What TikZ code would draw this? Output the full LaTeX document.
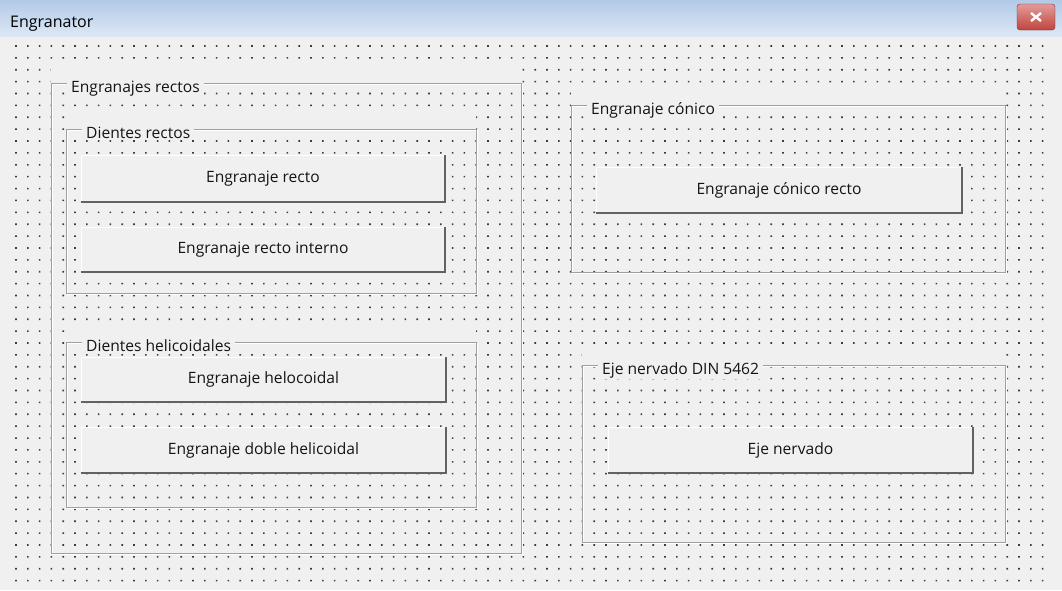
\documentclass[tikz,border=0pt]{standalone}
\usepackage{fontspec}
\usepackage{tikz}
\newfontfamily\uifont{Open Sans}
\definecolor{formbg}{HTML}{F0F0F0}
\definecolor{dotcol}{HTML}{3C3C3C}
\definecolor{framegray}{HTML}{A0A0A0}
\definecolor{btndark}{HTML}{626262}
\definecolor{titletop}{HTML}{B2CAE7}
\definecolor{titlebottom}{HTML}{DDE8F5}
\definecolor{closetop}{HTML}{E29C9C}
\definecolor{closebottom}{HTML}{C0443C}
\definecolor{closeedge}{HTML}{7A3030}

\begin{document}
\begin{tikzpicture}[
	x=1pt, y=-1pt,
	formbutton/.style={
		rectangle, fill=formbg, inner sep=0pt,
		font=\uifont\fontsize{15.6}{18}\selectfont, text=black!92
	},
	framecaption/.style={
		anchor=base west, fill=formbg, inner xsep=4pt, inner ysep=1pt,
		font=\uifont\fontsize{15.6}{18}\selectfont, text=black!92
	}
]
	\useasboundingbox (0,0) rectangle (1062,590);

	% title bar
	\shade[top color=titletop, bottom color=titlebottom]
		(0,0) rectangle (1062,37);
	\node[anchor=base west, inner sep=0pt, font=\uifont\fontsize{16}{18}\selectfont]
		(titulo) at (10,27) {Engranator};
	\node[
		rectangle, rounded corners=3pt, draw=closeedge,
		top color=closetop, bottom color=closebottom,
		minimum width=38pt, minimum height=26pt
	] (cerrar) at (1036,17) {};
	\draw[color=white, line width=2.4pt]
		([shift={(-5,-4)}]cerrar.center) -- ([shift={(5,4)}]cerrar.center)
		([shift={(-5,4)}]cerrar.center) -- ([shift={(5,-4)}]cerrar.center);

	% client area with its grid of dots
	\fill[color=formbg] (0,37) rectangle (1062,590);
	\fill[color=dotcol]
		\foreach \i in {0,1,...,87}{
			\foreach \j in {0,1,...,45}{
				(15.2+11.8*\i, 45.2+11.88*\j) rectangle ++(1.6,1.6)
			}
		};

	% Engranajes rectos
	\fill[color=formbg] (51,65) rectangle (521,83);
	\draw[color=white] (52,84) rectangle (522,554);
	\draw[color=framegray] (51,83) rectangle (521,553);
	\node[framecaption] (caprectos) at (67,92) {Engranajes rectos};

	% Dientes rectos
	\fill[color=formbg] (66,111) rectangle (476,129);
	\draw[color=white] (67,130) rectangle (477,294);
	\draw[color=framegray] (66,129) rectangle (476,293);
	\node[framecaption] (capdientes) at (82,138) {Dientes rectos};

	% Dientes helicoidales
	\fill[color=formbg] (66,324) rectangle (476,342);
	\draw[color=white] (67,343) rectangle (477,508);
	\draw[color=framegray] (66,342) rectangle (476,507);
	\node[framecaption] (caphelic) at (82,351) {Dientes helicoidales};

	% Engranaje conico
	\fill[color=formbg] (571,87) rectangle (1005,105);
	\draw[color=white] (572,106) rectangle (1006,273);
	\draw[color=framegray] (571,105) rectangle (1005,272);
	\node[framecaption] (capconico) at (587,114) {Engranaje cónico};

	% Eje nervado
	\fill[color=formbg] (582,347) rectangle (1005,365);
	\draw[color=white] (583,366) rectangle (1006,543);
	\draw[color=framegray] (582,365) rectangle (1005,542);
	\node[framecaption] (capeje) at (598,374) {Eje nervado DIN 5462};

	% buttons
	\node[formbutton, minimum width=364pt, minimum height=47pt]
		(recto) at (263,178.5) {Engranaje recto};
	\node[formbutton, minimum width=364pt, minimum height=45pt]
		(interno) at (263,249.5) {Engranaje recto interno};
	\node[formbutton, minimum width=365pt, minimum height=45pt]
		(helo) at (263.5,379.5) {Engranaje helocoidal};
	\node[formbutton, minimum width=365pt, minimum height=46pt]
		(doble) at (263.5,450) {Engranaje doble helicoidal};
	\node[formbutton, minimum width=366pt, minimum height=46pt]
		(conico) at (779,190) {Engranaje cónico recto};
	\node[formbutton, minimum width=365pt, minimum height=46pt]
		(nervado) at (790.5,450) {Eje nervado};

	\foreach \b in {recto,interno,helo,doble,conico,nervado}{
		\draw[color=white]
			(\b.south west) -- (\b.north west) -- (\b.north east);
		\draw[color=btndark, line width=2pt]
			(\b.south west) -- (\b.south east) -- (\b.north east);
	}
\end{tikzpicture}
\end{document}
